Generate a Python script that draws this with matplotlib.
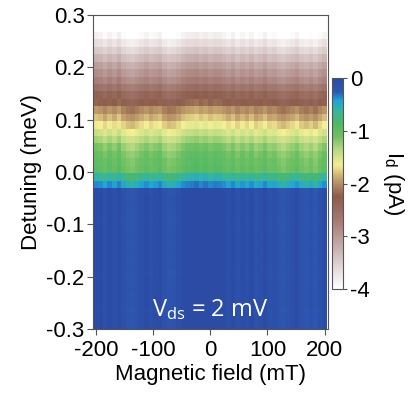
import matplotlib
matplotlib.use('Agg')
import matplotlib.pyplot as plt
import numpy as np
from matplotlib.colors import LinearSegmentedColormap

plt.rcParams['font.family'] = ['Liberation Sans', 'DejaVu Sans']
plt.rcParams['axes.unicode_minus'] = False

# magnetic field columns (mT), centres
field = np.arange(-200, 201, 8)
# detuning row edges (meV), bottom -> top
det_edges = np.linspace(-0.3, 0.2675, 41)

# mean current per detuning row (pA), bottom -> top
row_current = [-0.06, -0.05, -0.07, -0.05, -0.06, -0.05, -0.06, -0.07, -0.05, -0.06,
               -0.05, -0.06, -0.05, -0.06, -0.07, -0.06, -0.05, -0.06, -0.07,
               -0.42, -0.65, -1.02, -1.05, -1.10, -1.20, -1.35, -1.50, -1.68,
               -1.85, -2.00, -2.25, -2.40, -2.60, -2.80, -2.95, -3.10, -3.30,
               -3.50, -3.70, -3.90]
# column-to-column streaks (pA)
col_offset = [0.04, 0.02, -0.03, 0.03, -0.02, 0.05, -0.04, -0.08, -0.1, -0.06,
              -0.02, 0.02, -0.03, 0.0, 0.03, -0.05, -0.09, -0.07, -0.03, 0.02,
              0.05, 0.06, 0.08, 0.04, 0.07, 0.03, 0.06, 0.05, 0.02, -0.02,
              0.03, -0.04, 0.01, -0.03, 0.02, -0.05, -0.02, 0.03, -0.04, -0.02,
              -0.07, -0.1, -0.06, -0.03, 0.01, -0.06, -0.09, -0.05, -0.1, -0.03, 0.02]

current = np.array(row_current)[:, None] + 1.5 * np.array(col_offset)[None, :]

# colour stops: value (pA) -> colour
stops = [(-4.0, '#ffffff'), (-3.6, '#e4d8d8'), (-3.2, '#c6adad'), (-2.7, '#a47a72'),
         (-2.25, '#8c5c4c'), (-1.9, '#c4a46e'), (-1.65, '#f5ee95'), (-1.35, '#b5d880'),
         (-1.1, '#6cbf62'), (-0.85, '#4db865'), (-0.6, '#35b5a0'), (-0.42, '#1fa2da'),
         (-0.25, '#2e58b2'), (0.0, '#2b4ba5')]
cmap = LinearSegmentedColormap.from_list('idcm', [((v + 4) / 4, c) for v, c in stops])

fs = 16
fig = plt.figure(figsize=(4.1, 3.96), dpi=100)
ax = fig.add_axes([0.227, 0.169, 0.573, 0.793])
x_edges = np.append(field - 4, field[-1] + 4)
mesh = ax.pcolormesh(x_edges, det_edges, current, cmap=cmap, vmin=-4, vmax=0, shading='flat')
ax.set_xlim(-205, 206)
ax.set_ylim(-0.3, 0.3)
ax.set_xticks([-200, -100, 0, 100, 200])
ax.set_yticks([-0.3, -0.2, -0.1, 0.0, 0.1, 0.2, 0.3])
ax.set_yticklabels(['-0.3', '-0.2', '-0.1', '0.0', '0.1', '0.2', '0.3'])
ax.tick_params(direction='out', length=4, color='#555555', labelsize=fs, pad=2)
ax.tick_params(axis='x', pad=4)
for s in ax.spines.values():
    s.set_color('#555555')
ax.set_xlabel('Magnetic field (mT)', fontsize=fs, labelpad=2)
ax.set_ylabel('Detuning (meV)', fontsize=fs, labelpad=3)
ax.text(0, -0.262, r'$\mathregular{V_{ds}}$ = 2 mV', color='white', fontsize=17,
        family='Open Sans', ha='center', va='center')

cax = fig.add_axes([0.810, 0.270, 0.027, 0.533])
cb = fig.colorbar(mesh, cax=cax, ticks=[0, -1, -2, -3, -4])
cb.outline.set_edgecolor('#555555')
cax.tick_params(length=3, color='#555555', labelsize=fs, pad=2)
cb.set_label(r'$\mathregular{I_d}$ (pA)', rotation=270, fontsize=fs, labelpad=26)

fig.savefig('out.png', dpi=100)
